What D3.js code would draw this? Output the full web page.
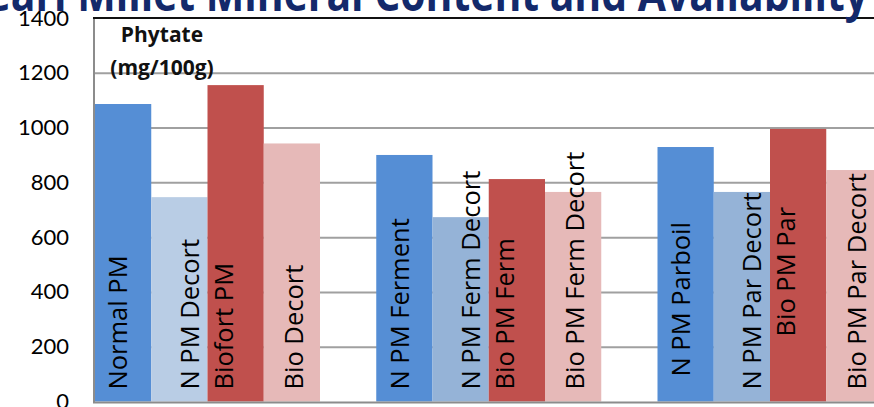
<!DOCTYPE html>
<html>
<head>
<meta charset="utf-8">
<script src="https://cdn.jsdelivr.net/npm/d3@7"></script>
<style>
  body { margin: 0; background: #fff; }
  svg { display: block; }
</style>
</head>
<body>
<div class="canva"></div>
<script>
// data
const groups = ["Normal", "Ferment", "Parboil"];
const seriesNames = ["Plain", "Decort", "Biofort", "Bio Decort"];

const labelsNormal  = ["Normal PM", "N PM Decort", "Biofort PM", "Bio Decort"];
const labelsFerment = ["N PM Ferment", "N PM Ferm Decort", "Bio PM Ferm", "Bio PM Ferm Decort"];
const labelsParboil = ["N PM Parboil", "N PM Par Decort", "Bio PM Par", "Bio PM Par Decort"];

const valuesNormal  = [1086, 746, 1155, 942];
const valuesFerment = [900, 673, 812, 765];
const valuesParboil = [929, 765, 995, 845];

const yTicks = [0, 200, 400, 600, 800, 1000, 1200, 1400];

const titleText = "Pearl Millet Mineral Content and Availability";
const axisTitle = ["Phytate", "(mg/100g)"];

// build rows for d3
const labelSets = [labelsNormal, labelsFerment, labelsParboil];
const valueSets = [valuesNormal, valuesFerment, valuesParboil];
const rows = [];
groups.forEach((g, gi) => {
    seriesNames.forEach((s, si) => {
        rows.push({group: g, series: s, gi: gi, si: si,
                   label: labelSets[gi][si], value: valueSets[gi][si]});
    });
});

// colours (decort blue is lighter in the first group)
const seriesColor = ["#558ed5", "#95b3d7", "#c0504d", "#e6b9b8"];
const firstDecort = "#b9cde5";

// label nudges, px (the text boxes were placed by hand in the original)
const labelShift = [-5, 10, -12, 2];
const labelRaise = {"N PM Parboil": 13, "Bio PM Par": 53};

const width = 874, height = 407;
const svg = d3.select(".canva").append("svg")
    .attr("width", width)
    .attr("height", height);

const plotLeft = 95, plotTop = 18, plotBottom = 401.5;

var y = d3.scaleLinear()
    .domain([0, 1400])
    .range([plotBottom, plotTop]);

// 3 groups, gap between groups is one bar wide, first group sits on the axis
var x0 = d3.scaleBand()
    .domain(groups)
    .range([plotLeft, plotLeft + 787.5])
    .paddingInner(0.2)
    .paddingOuter(0);

var x1 = d3.scaleBand()
    .domain(seriesNames)
    .range([0, x0.bandwidth()]);

// gridlines
const yGrid = d3.axisLeft(y)
    .tickValues(yTicks.filter(d => d > 0 && d < 1400))
    .tickSize(-(width - plotLeft))
    .tickFormat("");
svg.append("g")
    .attr("transform", `translate(${plotLeft},0)`)
    .call(yGrid)
    .call(g => g.select(".domain").remove())
    .call(g => g.selectAll("line").attr("stroke", "#a0a0a0").attr("stroke-width", 2));

// bars
svg.selectAll("rect.bar")
    .data(rows)
    .enter()
    .append("rect")
    .attr("class", "bar")
    .attr("x", d => x0(d.group) + x1(d.series))
    .attr("y", d => y(d.value))
    .attr("width", x1.bandwidth())
    .attr("height", d => y(0) - y(d.value))
    .attr("fill", d => (d.gi === 0 && d.si === 1) ? firstDecort : seriesColor[d.si]);

// bar labels, rotated, reading upwards
svg.selectAll("text.barlabel")
    .data(rows)
    .enter()
    .append("text")
    .attr("class", "barlabel")
    .attr("transform", d => {
        const cx = x0(d.group) + x1(d.series) + x1.bandwidth() / 2 + labelShift[d.si];
        const by = y(0) - 12 - (labelRaise[d.label] || 0);
        return `translate(${cx},${by}) rotate(-90)`;
    })
    .attr("dy", "0.36em")
    .style("font-family", "'Open Sans', sans-serif")
    .style("font-size", "25.5px")
    .attr("fill", "#000")
    .text(d => d.label);

// y axis
const yAxis = d3.axisLeft(y)
    .tickValues(yTicks)
    .tickSize(0)
    .tickPadding(26)
    .tickFormat(d3.format("d"));
svg.append("g")
    .attr("transform", `translate(${plotLeft},0)`)
    .call(yAxis)
    .call(g => g.select(".domain").remove())
    .call(g => g.selectAll("text")
        .style("font-family", "Lato, sans-serif")
        .style("font-size", "22px")
        .attr("fill", "#000"));

// frame: grey left + bottom, dark top
svg.append("line")
    .attr("x1", plotLeft - 1).attr("x2", plotLeft - 1)
    .attr("y1", plotTop).attr("y2", plotBottom + 1)
    .attr("stroke", "#8c8c8c").attr("stroke-width", 2);
svg.append("line")
    .attr("x1", plotLeft - 2).attr("x2", width)
    .attr("y1", plotBottom + 1).attr("y2", plotBottom + 1)
    .attr("stroke", "#8c8c8c").attr("stroke-width", 2);
svg.append("line")
    .attr("x1", plotLeft - 2).attr("x2", width)
    .attr("y1", plotTop).attr("y2", plotTop)
    .attr("stroke", "#111").attr("stroke-width", 2);

// axis title
svg.append("text")
    .attr("x", 162)
    .attr("y", 42)
    .attr("text-anchor", "middle")
    .style("font-family", "'Open Sans', sans-serif")
    .style("font-weight", "bold")
    .style("font-size", "21px")
    .attr("fill", "#111")
    .selectAll("tspan")
    .data(axisTitle)
    .enter()
    .append("tspan")
    .attr("x", 162)
    .attr("dy", (d, i) => i === 0 ? 0 : 33)
    .text(d => d);

// page title, cut off at the top; squeezed a bit (original font is narrower)
// fit so that "Millet ... Availability" spans 77 -> 868
const squeeze = 0.86;
const titleG = svg.append("g")
    .attr("transform", `translate(868,11) scale(${squeeze},1)`);
const title = titleG.append("text")
    .attr("x", 0)
    .attr("y", 0)
    .attr("text-anchor", "end")
    .style("font-family", "'Open Sans', sans-serif")
    .style("font-weight", "bold")
    .style("font-size", "40px")
    .attr("fill", "#13296b")
    .text(titleText.slice(titleText.indexOf("Millet")));
const tailLen = title.node().getComputedTextLength();
const fs = 40 * (868 - 77) / (tailLen * squeeze);
title.style("font-size", fs + "px").text(titleText);
</script>
</body>
</html>
